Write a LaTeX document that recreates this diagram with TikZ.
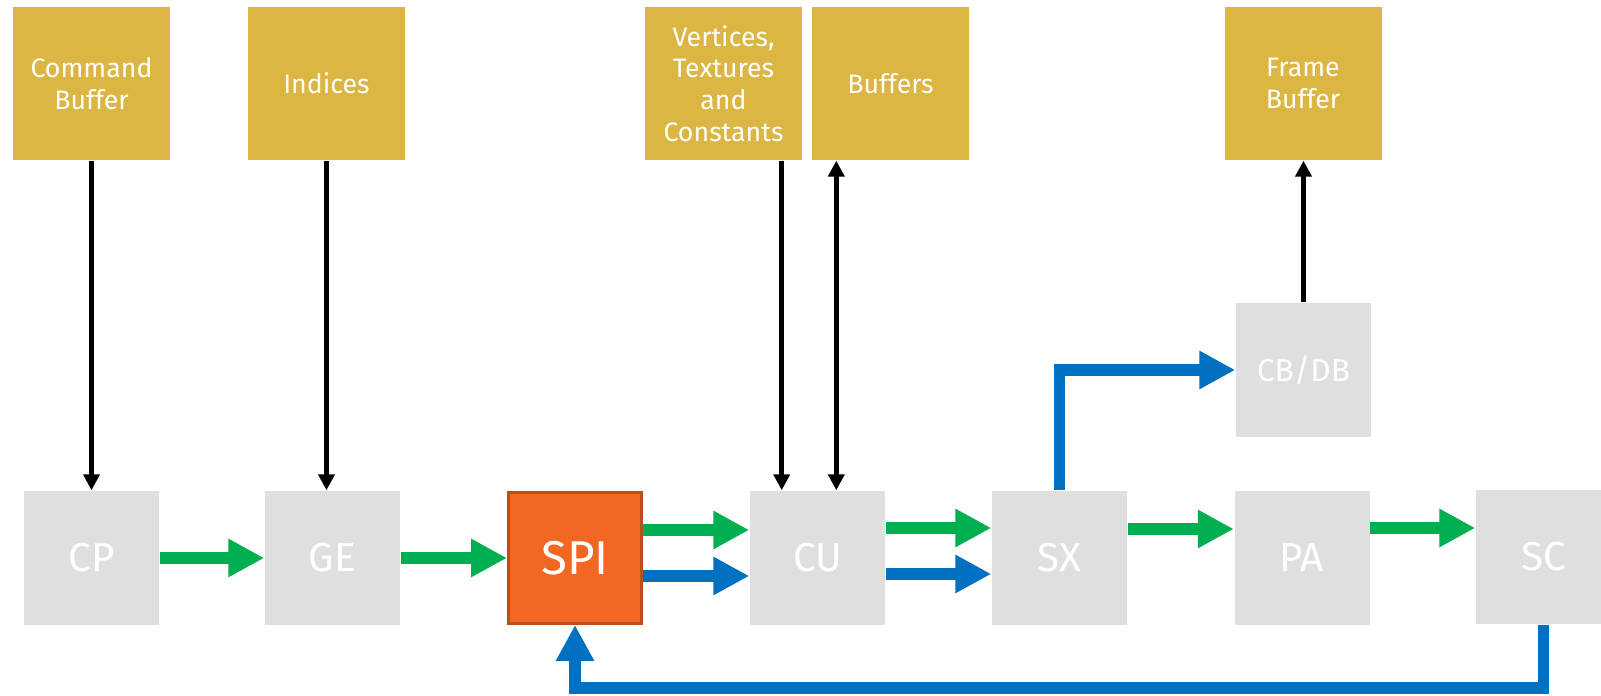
\documentclass[tikz,border=0pt]{standalone}
\usepackage{fontspec}
\setmainfont{Fira Sans}
\usetikzlibrary{arrows.meta}
\definecolor{storegold}{HTML}{DBB643}
\definecolor{unitgray}{HTML}{E0DFE0}
\definecolor{spiorange}{HTML}{F26722}
\definecolor{spiedge}{HTML}{B8501E}
\definecolor{datagreen}{HTML}{00B050}
\definecolor{ctrlblue}{HTML}{0070C0}
\tikzset{
  store/.style={fill=storegold, text=white, minimum width=1.57cm, minimum height=1.53cm,
    inner sep=0pt, align=center, font=\fontsize{7.6}{9}\selectfont},
  unit/.style={fill=unitgray, text=white, minimum width=1.35cm, minimum height=1.34cm,
    inner sep=0pt, font=\fontsize{11.5}{13}\selectfont},
  wire/.style={draw=black, line width=0.45mm, >={Triangle[length=1.6mm,width=1.6mm]}},
  flow/.style={line width=1.15mm, >={Triangle[length=3.6mm,width=3.6mm]}, ->},
}
\begin{document}
\begin{tikzpicture}
    \clip (0,0) rectangle (16.01,6.96);
    \fill[white] (0,0) rectangle (16.01,6.96);

    \node[store] (cmdbuf) at (0.915,6.125) {Command\\Buffer};
    \node[store] (indices) at (3.265,6.125) {Indices};
    \node[store] (vtc) at (7.235,6.125) {Vertices,\\Textures\\and\\Constants};
    \node[store] (buffers) at (8.905,6.125) {Buffers};
    \node[store] (framebuf) at (13.03,6.125) {Frame\\Buffer};

    \node[unit] (cp) at (0.915,1.38) {CP};
    \node[unit] (ge) at (3.325,1.38) {GE};
    \node[unit, fill=spiorange, draw=spiedge, line width=0.3mm, minimum width=1.33cm,
      minimum height=1.31cm, font=\fontsize{13.5}{15}\selectfont] (spi) at (5.75,1.38) {SPI};
    \node[unit] (cu) at (8.175,1.38) {CU};
    \node[unit] (sx) at (10.595,1.38) {SX};
    \node[unit] (pa) at (13.02,1.38) {PA};
    \node[unit] (sc) at (15.435,1.39) {SC};
    \node[unit, font=\fontsize{9}{11}\selectfont] (cbdb) at (13.035,3.26) {CB/DB};

    \draw[wire, ->] (cmdbuf.south) -- (cp.north);
    \draw[wire, ->] (indices.south) -- (indices.south |- ge.north);
    \draw[wire, ->] ([xshift=-2.1mm]vtc.south east) -- ([xshift=-2.1mm]vtc.south east |- cu.north);
    \draw[wire, <->] ([xshift=2.5mm]buffers.south west) -- ([xshift=2.5mm]buffers.south west |- cu.north);
    \draw[wire, ->] (cbdb.north) -- (cbdb.north |- framebuf.south);

    \draw[flow, datagreen] (cp.east) -- (ge.west);
    \draw[flow, datagreen] (ge.east) -- (spi.west);
    \draw[flow, datagreen] ([yshift=2.8mm]spi.east) -- ([yshift=2.8mm]spi.east -| cu.west);
    \draw[flow, ctrlblue] ([yshift=-1.8mm]spi.east) -- ([yshift=-1.8mm]spi.east -| cu.west);
    \draw[flow, datagreen] ([yshift=3mm]cu.east) -- ([yshift=3mm]cu.east -| sx.west);
    \draw[flow, ctrlblue] ([yshift=-1.6mm]cu.east) -- ([yshift=-1.6mm]cu.east -| sx.west);
    \draw[flow, datagreen] ([yshift=2.9mm]sx.east) -- ([yshift=2.9mm]sx.east -| pa.west);
    \draw[flow, datagreen] ([yshift=3mm]pa.east) -- ([yshift=3mm]pa.east -| sc.west);
    \draw[flow, ctrlblue] (sx.north) |- (cbdb.west);

    \coordinate (back) at (5.75,0.08);
    \draw[flow, ctrlblue] (sc.south) |- (back) -- (spi.south);
\end{tikzpicture}
\end{document}
